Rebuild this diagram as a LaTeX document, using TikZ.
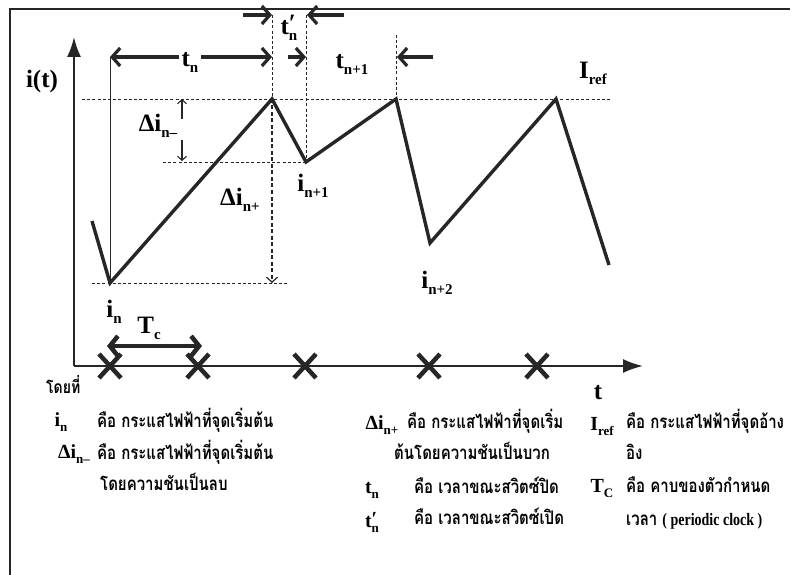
\documentclass[tikz,border=0pt]{standalone}
\usepackage{fontspec}
\usepackage{graphicx}
\setmainfont{Liberation Serif}
\newfontfamily\thai[Script=Thai]{Loma}
\usetikzlibrary{arrows.meta}
\newcommand\SA[1]{\raisebox{-6pt}{\fontsize{15}{15}\selectfont #1}}
\newcommand\SB[1]{\raisebox{-5pt}{\fontsize{13}{13}\selectfont #1}}
\newcommand\PA{\rlap{\raisebox{2.5pt}{′}}}
\newcommand\thstretch[1]{\scalebox{1}[1.25]{#1}}
\begin{document}
\begin{tikzpicture}[x=1pt,y=-1pt,
  ink/.style={draw=black!85},
  frame/.style={ink,line width=1.6pt},
  axis/.style={ink,line width=2pt,-{Latex[length=20pt,width=14pt]}},
  wave/.style={ink,line width=3.4pt,line join=miter},
  dimarrow/.style={ink,line width=3.2pt,-{Straight Barb[length=8pt,width=18pt]}},
  tcarrow/.style={ink,line width=4.5pt,{Straight Barb[length=8pt,width=20pt]}-{Straight Barb[length=8pt,width=20pt]}},
  guide/.style={ink,line width=0.9pt,dash pattern=on 3pt off 2.2pt},
  guideB/.style={ink,line width=1.6pt,dash pattern=on 4pt off 2.5pt},
  thin/.style={ink,line width=0.9pt},
  small/.style={ink,line width=1.1pt,-{Straight Barb[length=4pt,width=9pt]}},
  cross/.style={ink,line width=4.5pt},
  lbl/.style={inner sep=0pt,font=\bfseries\fontsize{25}{27}\selectfont},
  leg/.style={inner sep=0pt,font=\bfseries\fontsize{20}{22}\selectfont},
  th/.style={inner sep=0pt,anchor=west,font=\thai\bfseries\fontsize{15}{17}\selectfont}
]
\useasboundingbox (0,0) rectangle (798,575);
% frame
\coordinate (fa) at (790,9);
\coordinate (fb) at (10,9);
\coordinate (fc) at (10,575);
\draw[frame] (fa) -- (fb) -- (fc);
% axes
\coordinate (O) at (74,366);
\coordinate (Ytip) at (74,37);
\coordinate (Xtip) at (643,366);
\draw[axis] (O) -- (Ytip);
\draw[axis] (O) -- (Xtip);
% waveform
\coordinate (w0) at (92,221);
\coordinate (w1) at (110,283);
\coordinate (w2) at (272,99);
\coordinate (w3) at (306,162);
\coordinate (w4) at (396,99);
\coordinate (w5) at (430,243);
\coordinate (w6) at (556,99);
\coordinate (w7) at (609,265);
% reference line
\coordinate (r0) at (82,99);
\coordinate (r1) at (610,99);
\draw[guide] (r0) -- (r1);
% guides
\coordinate (h0) at (92,283);
\coordinate (h1) at (288,283);
\draw[guide] (h0) -- (h1);
\coordinate (m0) at (163,162);
\draw[guide] (m0) -- (w3);
\coordinate (v2top) at (272,15);
\draw[guide] (v2top) -- (w2);
\coordinate (v2bot) at (272,283);
\draw[guideB,-{Straight Barb[length=5pt,width=11pt,line width=1.2pt]}] (w2) -- (v2bot);
\coordinate (v3top) at (306,15);
\draw[guide] (v3top) -- (w3);
\coordinate (v4top) at (396,35);
\draw[guide] (v4top) -- (w4);
\coordinate (tna) at (110,57);
\coordinate (tnb) at (272,57);
\draw[thin] (w1) -- (tna);
\draw[wave] (w0) -- (w1) -- (w2) -- (w3) -- (w4) -- (w5) -- (w6) -- (w7);
% t_n arrow
\draw[dimarrow,{Straight Barb[length=8pt,width=18pt]}-{Straight Barb[length=8pt,width=18pt]}] (tna) -- (tnb);
\node[lbl,fill=white,inner xsep=3pt,inner ysep=4pt] (ltn) at (190,62) {t\SA{n}};
% t'_n arrows
\coordinate (pa0) at (243,15);
\coordinate (pa1) at (272,15);
\coordinate (pb0) at (344,15);
\coordinate (pb1) at (307,15);
\draw[dimarrow] (pa0) -- (pa1);
\draw[dimarrow] (pb0) -- (pb1);
\node[lbl] (ltnp) at (289,28) {t\PA\SA{n}};
% t_{n+1} arrows
\coordinate (qa0) at (288,57);
\coordinate (qa1) at (306,57);
\coordinate (qb0) at (433,57);
\coordinate (qb1) at (397,57);
\draw[dimarrow] (qa0) -- (qa1);
\draw[dimarrow] (qb0) -- (qb1);
\node[lbl] (ltn1) at (352,64) {t\SA{n+1}};
% delta i n- arrows
\coordinate (da0) at (182,119);
\coordinate (da1) at (182,99);
\coordinate (db0) at (182,140);
\coordinate (db1) at (182,161);
\draw[small] (da0) -- (da1);
\draw[small] (db0) -- (db1);
% labels
\node[lbl] (lit) at (42,81) {i(t)};
\node[lbl] (ldm) at (158,126) {Δi\SA{n–}};
\node[lbl] (ldp) at (240,200) {Δi\SA{n+}};
\node[lbl] (lin1) at (313,186) {i\SA{n+1}};
\node[lbl] (lin) at (114,312) {i\SA{n}};
\node[lbl] (lin2) at (437,283) {i\SA{n+2}};
\node[lbl] (liref) at (593,73) {I\SA{ref}};
\node[lbl] (lt) at (598,393) {t};
% clock
\coordinate (c0) at (107,346);
\coordinate (c1) at (202,346);
\draw[tcarrow] (c0) -- (c1);
\node[lbl] (ltc) at (149,328) {T\SA{c}};
\foreach \cx [count=\k] in {110,198,305,429,537}{
  \coordinate (x\k) at (\cx,366);
  \draw[cross] ([shift={(-11,-12)}]x\k) -- ([shift={(11,12)}]x\k);
  \draw[cross] ([shift={(-11,12)}]x\k) -- ([shift={(11,-12)}]x\k);
}
\node[th,font=\thai\bfseries\fontsize{14}{16}\selectfont] (ldoi) at (46,385) {\thstretch{โดยที่}};
% legend
\node[leg] (g1) at (61,422) {i\SB{n}};
\node[th] (g1t) at (97,420) {\thstretch{คือ กระแสไฟฟ้าที่จุดเริ่มต้น}};
\node[leg] (g2) at (74,454) {Δi\SB{n–}};
\node[th] (g2t) at (97,452) {\thstretch{คือ กระแสไฟฟ้าที่จุดเริ่มต้น}};
\node[th] (g2u) at (100,482) {\thstretch{โดยความชันเป็นลบ}};
\node[leg] (g3) at (382,425) {Δi\SB{n+}};
\node[th] (g3t) at (407,421) {\thstretch{คือ กระแสไฟฟ้าที่จุดเริ่ม}};
\node[th] (g3u) at (394,451) {\thstretch{ต้นโดยความชันเป็นบวก}};
\node[leg] (g4) at (372,490) {t\SB{n}};
\node[th] (g4t) at (414,485) {\thstretch{คือ เวลาขณะสวิตซ์ปิด}};
\node[leg] (g5) at (372,522) {t\rlap{\raisebox{2pt}{′}}\SB{n}};
\node[th] (g5t) at (414,516) {\thstretch{คือ เวลาขณะสวิตซ์เปิด}};
\node[leg] (g6) at (602,427) {I\SB{ref}};
\node[th] (g6t) at (626,421) {\thstretch{คือ กระแสไฟฟ้าที่จุดอ้าง}};
\node[th] (g6u) at (626,452) {\thstretch{อิง}};
\node[leg] (g7) at (602,489) {T\SB{C}};
\node[th] (g7t) at (626,485) {\thstretch{คือ คาบของตัวกำหนด}};
\node[th] (g7u) at (626,521) {\thstretch{เวลา {\rmfamily\bfseries\fontsize{14}{16}\selectfont( periodic clock )}}};
\end{tikzpicture}
\end{document}
